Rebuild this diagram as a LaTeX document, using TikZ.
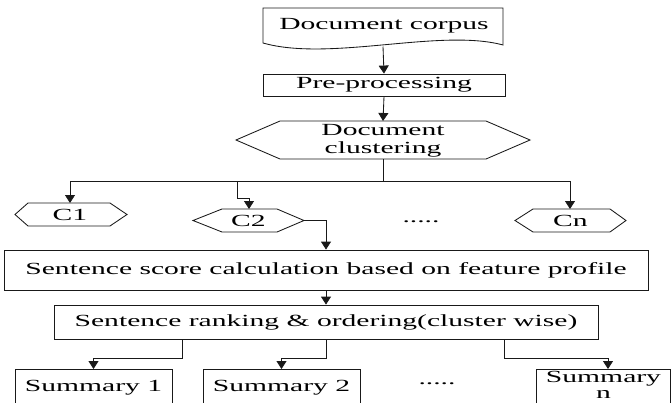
\documentclass[tikz,border=0pt]{standalone}
\usepackage{fontspec}
\setmainfont{Liberation Serif}
\usepackage{graphicx}
\usetikzlibrary{arrows.meta}
\newcommand{\stx}[1]{\scalebox{1.74}[1]{#1}}
\begin{document}
\begin{tikzpicture}[x=1pt,y=-1pt,
  line width=0.85pt, draw=black!90,
  lbl/.style={inner sep=0pt, font=\fontsize{17}{17.5}\selectfont, align=center},
  boxnode/.style={draw, inner sep=0pt, font=\fontsize{17}{17.5}\selectfont, align=center},
  arr/.style={-{Triangle[width=10pt,length=8pt]}}]
\useasboundingbox (0,0) rectangle (671,402);
\clip (0,0) rectangle (671,402);

% Document corpus (document shape)
\draw (263,8) -- (503,8) -- (503,45) .. controls (440,28) and (330,62) .. (263,43) -- cycle;
\node[lbl] (corpus) at (384,26) {\stx{Document corpus}};
\coordinate (corpusb) at (383,46.5);

% Pre-processing
\node[boxnode, minimum width=242pt, minimum height=22pt] (pre) at (384,85) {\stx{Pre-processing}};

% Document clustering hexagon
\draw (236,140) -- (280,121) -- (486,121) -- (530,140) -- (486,159) -- (280,159) -- cycle;
\node[lbl] (clu) at (383,141) {\stx{Document}\\\stx{clustering}};
\coordinate (clut) at (383,121);
\coordinate (club) at (383,159);

% cluster hexagons
\draw (15,214.5) -- (28,203) -- (110,203) -- (127,214.5) -- (110,226) -- (28,226) -- cycle;
\node[lbl] (c1) at (70,214.5) {\stx{C1}};
\coordinate (c1t) at (70,203);

\draw (193,220.5) -- (222,209) -- (277,209) -- (304,220.5) -- (277,232) -- (222,232) -- cycle;
\node[lbl] (c2) at (248.5,220.5) {\stx{C2}};
\coordinate (c2t) at (249,209);
\coordinate (c2e) at (304,220.5);

\node[lbl] (dots1) at (421,222) {\stx{.....}};

\draw (515,220.5) -- (533,209) -- (610,209) -- (626,220.5) -- (610,232) -- (533,232) -- cycle;
\node[lbl] (cn) at (570.5,220.5) {\stx{Cn}};
\coordinate (cnt) at (570,209);

% Sentence score box
\node[boxnode, minimum width=644pt, minimum height=40pt] (ss) at (326,270)
  {\stx{Sentence score calculation based on feature profile}};

% Ranking box
\node[boxnode, minimum width=544pt, minimum height=34pt] (rk) at (326,322)
  {\stx{Sentence ranking \& ordering(cluster wise)}};

% Summary boxes
\node[boxnode, minimum width=157pt, minimum height=36pt, anchor=north] (s1) at (93.5,369) {\stx{Summary 1}};
\node[boxnode, minimum width=157pt, minimum height=36pt, anchor=north] (s2) at (281.5,369) {\stx{Summary 2}};
\node[lbl] (dots2) at (437,384) {\stx{.....}};
\node[lbl, minimum width=133pt, minimum height=31pt, anchor=north, font=\fontsize{17}{16}\selectfont] (sn) at (603.5,369) {\stx{Summary}\\\stx{n}};
\draw (sn.north west) -- ++(0,45);
\draw (sn.north west) -- (sn.north east) -- ++(0,45);
\coordinate (snt) at (608,369);

% connectors
\draw[arr] (corpusb) -- (pre.north);
\draw[arr] (pre.south) -- (clut);
\coordinate (split) at (383,181);
\coordinate (c2j) at (237,181);
\draw (club) -- (split);
\draw[arr] (split) -| (c1t);
\draw[arr] (split) -| (cnt);
\draw[arr] (c2j) -- ++(0,17) -| (c2t);
\draw[arr] (c2e) -| (ss.north);
\draw[arr] (ss.south) -- (rk.north);
\coordinate (r1) at (182,339);
\coordinate (r3) at (504,339);
\draw[arr] (r1) -- ++(0,19) -| (s1.north);
\draw[arr] (rk.south) -- ++(0,19) -| (s2.north);
\draw[arr] (r3) -- ++(0,19) -| (snt);
\end{tikzpicture}
\end{document}
